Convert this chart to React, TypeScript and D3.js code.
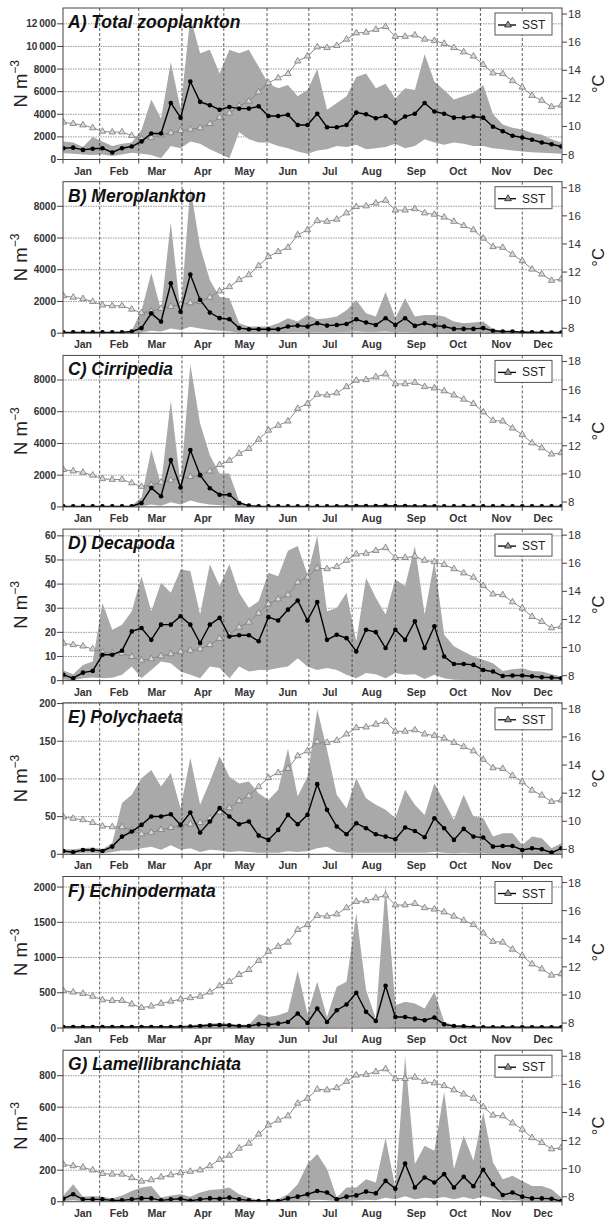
import React from "react";
import * as d3 from "d3";

// ---------- data ----------
const DAYS = [5,12,19,26,33,40,47,54,61,68,75,82,89,96,103,110,117,124,131,138,145,152,159,166,173,180,187,194,201,208,215,222,229,236,243,250,257,264,271,278,285,292,299,306,313,320,327,334,341,348,355,362];
const MONTHS = ["Jan","Feb","Mar","Apr","May","Jun","Jul","Aug","Sep","Oct","Nov","Dec"];
const MONTH_LABEL_DAYS = [19,45,72,105,135,166,196,226,258,288,319,349];
const MONTH_LINES = [31,59,90,120,151,181,212,243,273,304,334];
const SST_TICKS = [8,10,12,14,16,18];

const SST = [10.3,10.2,10.1,9.9,9.65,9.6,9.6,9.35,9.1,9.2,9.4,9.55,9.7,9.8,9.9,10.2,10.65,10.95,11.45,11.8,12.45,13.1,13.45,13.75,14.65,15.0,15.65,15.6,15.75,16.2,16.65,16.7,16.9,17.1,16.4,16.4,16.5,16.2,16.1,15.9,15.6,15.3,15.0,14.4,13.8,13.75,13.25,12.8,12.2,11.85,11.4,11.5];

const A_MEAN = [1000,1050,850,950,1000,620,1000,1150,1600,2300,2300,5000,3700,6900,5100,4800,4400,4650,4500,4500,4700,3850,3850,3950,3050,3050,4050,2850,2850,3050,4150,4000,3650,3850,3250,3800,4050,5000,4250,4050,3700,3700,3800,3700,2900,2500,2100,1950,1750,1500,1350,1150];
const A_UP = [1600,1500,1100,2000,1600,1200,1400,1500,2600,5300,3600,8600,4500,12600,9400,9700,7600,9700,9400,9700,8200,6700,6300,6600,5600,6150,8000,4400,5000,5600,7300,7600,6300,6700,5400,6300,6150,9300,6900,6150,5300,5600,5900,6600,4000,3100,2800,2650,2350,2200,1800,1500];
const A_LO = [550,500,450,400,450,300,450,600,500,400,100,1200,1000,1600,1400,900,500,100,2400,1800,1500,1500,1200,1000,700,500,800,900,1200,1100,1300,900,1000,1100,1400,1000,1200,1800,1500,1300,1500,1400,1200,1200,1000,900,800,700,650,600,550,500];

const B_MEAN = [50,50,50,50,50,50,50,110,320,1250,730,3150,1350,3700,2100,1300,950,880,320,250,250,250,250,420,480,420,630,480,520,580,880,670,520,940,520,940,460,630,480,420,270,270,270,320,150,110,110,60,60,50,40,40];
const B_UP = [80,80,80,80,80,80,100,160,1450,3800,1450,7000,1250,9200,5450,3350,2300,2200,630,420,420,420,630,950,730,1150,880,950,1050,1450,2100,1250,1050,2600,950,2200,1050,1150,1150,1050,730,630,670,730,250,150,120,100,90,80,70,60];
const B_LO = [10,10,10,10,10,10,10,20,50,150,100,300,200,400,300,200,150,100,50,40,40,40,40,60,80,60,80,60,60,70,100,80,70,100,60,80,50,60,50,40,30,30,30,30,20,10,10,10,10,10,10,10];

const C_MEAN = [30,30,30,30,30,30,30,40,250,1200,670,2950,1220,3580,2000,1180,770,770,250,80,40,30,30,30,30,30,30,30,40,40,60,50,50,70,50,60,40,40,40,30,30,30,30,30,30,30,30,30,30,30,30,30];
const C_UP = [50,50,50,50,50,50,50,80,600,3600,1400,6700,1400,9000,5250,3250,2100,2100,350,100,60,50,50,50,50,50,50,60,70,80,120,100,100,140,100,120,80,70,70,60,50,50,50,50,50,50,50,50,50,50,50,50];
const C_LO = [5,5,5,5,5,5,5,10,40,150,80,300,150,400,250,150,100,80,30,10,5,5,5,5,5,5,5,5,10,10,10,10,10,10,10,10,5,5,5,5,5,5,5,5,5,5,5,5,5,5,5,5];

const D_MEAN = [2.4,1.0,3.3,4.0,10.7,10.7,12.4,20.4,21.8,16.9,23.2,23.2,26.7,23.2,15.6,23.2,26.0,18.3,18.8,18.8,16.3,26.3,24.9,29.4,33.2,24.9,32.6,16.9,19.0,17.6,12.1,21.1,20.1,13.5,21.1,16.9,24.6,13.5,22.5,10.0,6.9,6.9,6.5,4.4,3.75,1.9,2.1,2.1,1.8,1.4,1.25,1.0];
const D_UP = [4.2,2.6,6.5,7.9,32.2,21.1,23.2,28.7,43.3,28.7,40.6,36.4,46.1,45.4,27.4,48.2,39.2,48.2,36.4,30.1,32.9,44.7,43.3,53.8,55.8,44.0,60.0,28.7,30.1,36.4,16.3,42.6,34.3,27.4,41.9,39.2,55.8,27.4,49.6,19.0,14.2,12.1,10.0,8.6,7.2,4.0,4.7,5.1,4.0,3.75,2.6,1.7];
const D_LO = [0.5,0.1,1.0,1.3,1.0,1.2,2.4,5.8,1.0,4.4,7.9,7.2,3.8,2.4,1.0,5.8,5.2,1.0,5.8,3.8,4.4,4.4,5.2,5.8,9.3,5.8,4.4,5.2,4.4,2.4,1.0,3.1,2.6,1.0,3.1,2.4,2.6,0.7,2.4,1.0,0.4,0.3,0.3,0.3,0.3,0.2,0.2,0.2,0.2,0.2,0.1,0.1];

const E_MEAN = [4.4,2.7,5.8,5.8,4.4,10.2,23.5,30.2,39.0,50.1,50.1,53.2,39.0,55.4,28.8,43.5,61.2,50.1,39.9,43.5,24.8,19.1,32.4,52.3,39.9,52.3,93.1,59.0,36.8,26.6,41.2,34.6,26.6,23.5,20.0,35.5,31.0,22.6,47.9,34.6,19.1,33.7,23.5,22.2,10.2,11.1,11.1,5.8,8.0,6.7,2.2,8.0];
const E_UP = [6.7,6.7,8,8.9,6.7,15,68,79,101,112,90,108,61,128,65.6,96.7,130,103,94,96.7,81,72,85.6,140,77,103,192,139,79,61,101,74.5,65.6,59,48,85.6,65.6,52.3,94,70,45.7,79,50,48,23.5,28,28,12.4,23.5,21.3,8,14.6];
const E_LO = [1.5,1,2,2,1.5,3,5,5,8,10,6,12,6,8,3,6,5,3,4,3,2,2,2,4,3,4,8,10,3,2,2,2,2,2,2,2,2,2,3,2,1.5,2,1.5,1.5,1,1,1,0.5,0.5,0.5,0.3,0.5];

const F_MEAN = [15,15,15,15,15,15,15,15,15,15,15,15,15,20,29,38,43,38,29,29,52,48,62,86,205,71,276,86,252,333,500,229,100,600,157,157,133,110,148,52,29,24,14,10,10,10,10,10,10,10,10,10];
const F_UP = [25,25,25,25,25,25,25,25,25,25,30,30,35,38,53,62,72,62,45,45,195,157,181,229,814,200,657,157,586,657,1630,538,133,2030,324,371,348,276,514,86,40,29,20,15,15,15,15,15,15,15,15,15];
const F_LO = [2,2,2,2,2,2,2,2,2,2,2,2,2,3,4,5,5,5,4,4,6,5,6,8,12,6,12,8,10,12,15,10,6,15,8,8,6,5,6,3,2,2,2,2,2,2,2,2,2,2,2,2];

const G_MEAN = [19,47,15,15,15,8.5,8.5,15,21,21,8.5,15,19,6.4,15,21,19,26,15,8.5,4,4,4,21,32,47,68,58,15,32,40,64,53,132,83,243,90,154,122,175,90,158,98,203,111,43,58,32,21,21,19,4];
const G_UP = [40,111,32,36,32,21,40,68,90,100,26,40,47,32,58,75,79,90,47,26,8.5,12,15,47,111,239,303,207,26,90,90,143,122,405,90,922,239,356,324,698,207,420,260,570,250,143,164,132,100,100,79,26];
const G_LO = [5,10,3,3,3,2,2,3,5,5,2,3,4,1,3,5,4,5,3,2,1,1,1,3,5,8,12,10,3,5,8,12,10,25,15,35,15,25,20,30,15,30,15,35,20,8,10,6,4,4,4,1];

const TITLES = ["A) Total zooplankton","B) Meroplankton","C) Cirripedia","D) Decapoda","E) Polychaeta","F) Echinodermata","G) Lamellibranchiata"];
const YMAX = [13400, 9550, 9550, 62.8, 201, 2150, 962];
const YTICKS = [
  [0,2000,4000,6000,8000,10000,12000],
  [0,2000,4000,6000,8000],
  [0,2000,4000,6000,8000],
  [0,10,20,30,40,50,60],
  [0,50,100,150,200],
  [0,500,1000,1500,2000],
  [0,200,400,600,800],
];
const MEANS = [A_MEAN,B_MEAN,C_MEAN,D_MEAN,E_MEAN,F_MEAN,G_MEAN];
const UPS = [A_UP,B_UP,C_UP,D_UP,E_UP,F_UP,G_UP];
const LOS = [A_LO,B_LO,C_LO,D_LO,E_LO,F_LO,G_LO];

// ---------- layout ----------
const W = 607, H = 1221;
const LEFT = 63, RIGHT = 562;
const TOP0 = 8, STEP = 173.7, PH = 151.5;
const FONT = "'Liberation Sans', Arial, sans-serif";

const x = d3.scaleLinear().domain([4.7, 362.5]).range([LEFT, RIGHT]);

const fmt = (v: number) => (v >= 10000 ? d3.format(",")(v).replace(",", "\u2009") : String(v));

function Panel({ k }: { k: number }) {
  const top = TOP0 + STEP * k;
  const bottom = top + PH;
  const y = d3.scaleLinear().domain([0, YMAX[k]]).range([bottom, top]);
  const yT = d3.scaleLinear().domain([7.65, 18.43]).range([bottom, top]);
  const mean = MEANS[k], up = UPS[k], lo = LOS[k];
  const area = d3.area<number>()
    .x((_, i) => x(DAYS[i]))
    .y0((_, i) => y(lo[i]))
    .y1((_, i) => y(up[i]));
  const line = d3.line<number>().x((_, i) => x(DAYS[i])).y((d) => y(d));
  const sstLine = d3.line<number>().x((_, i) => x(DAYS[i])).y((d) => yT(d));
  const tri = d3.symbol(d3.symbolTriangle, 18)()!;
  const triLeg = d3.symbol(d3.symbolTriangle, 20)()!;
  const clipId = `clip${k}`;
  const midY = (top + bottom) / 2;
  const legX = 495, legY = top + 5;
  return (
    <g>
      <defs>
        <clipPath id={clipId}>
          <rect x={LEFT} y={top} width={RIGHT - LEFT} height={PH} />
        </clipPath>
      </defs>
      <rect x={LEFT} y={top} width={RIGHT - LEFT} height={PH} fill="#fff" />
      {YTICKS[k].filter((t) => t > 0).map((t) => (
        <line key={"h" + t} x1={LEFT} x2={RIGHT} y1={y(t)} y2={y(t)} stroke="#9a9a9a" strokeWidth={1} strokeDasharray="1.5,1" />
      ))}
      <g clipPath={`url(#${clipId})`}>
        <path d={area(up) || ""} fill="#a9a9a9" stroke="none" />
        {MONTH_LINES.map((d) => (
          <line key={"v" + d} x1={x(d)} x2={x(d)} y1={top} y2={bottom} stroke="#333" strokeWidth={0.8} strokeDasharray="3,2" />
        ))}
        <path d={sstLine(SST) || ""} fill="none" stroke="#8a8a8a" strokeWidth={1} />
        {SST.map((v, i) => (
          <path key={"t" + i} d={tri} transform={`translate(${x(DAYS[i])},${yT(v)})`} fill="#d8d8d8" stroke="#7a7a7a" strokeWidth={0.8} />
        ))}
        <path d={line(mean) || ""} fill="none" stroke="#000" strokeWidth={1.4} />
        {mean.map((v, i) => (
          <circle key={"c" + i} cx={x(DAYS[i])} cy={y(v)} r={2.3} fill="#000" />
        ))}
      </g>
      <rect x={LEFT} y={top} width={RIGHT - LEFT} height={PH} fill="none" stroke="#444" strokeWidth={1} />
      {YTICKS[k].map((t) => (
        <g key={"l" + t}>
          <line x1={LEFT - 6} x2={LEFT} y1={y(t)} y2={y(t)} stroke="#444" strokeWidth={1} />
          <text x={LEFT - 7} y={y(t) + 3.5} textAnchor="end" fontSize={10} fontWeight="bold" fill="#333" fontFamily={FONT}>{fmt(t)}</text>
        </g>
      ))}
      {SST_TICKS.map((t) => (
        <g key={"r" + t}>
          <line x1={RIGHT} x2={RIGHT + 5} y1={yT(t)} y2={yT(t)} stroke="#444" strokeWidth={1} />
          <text x={RIGHT + 6} y={yT(t) + 4} fontSize={11.5} fill="#333" fontFamily={FONT}>{t}</text>
        </g>
      ))}
      {[4.7, ...MONTH_LINES, 362.5].map((d) => (
        <line key={"b" + d} x1={x(d)} x2={x(d)} y1={bottom} y2={bottom + 4} stroke="#444" strokeWidth={1} />
      ))}
      {MONTHS.map((m, i) => (
        <text key={m} x={x(MONTH_LABEL_DAYS[i])} y={bottom + 15} textAnchor="middle" fontSize={10.5} fontWeight="bold" fill="#333" fontFamily={FONT}>{m}</text>
      ))}
      <text transform={`translate(27,${midY}) rotate(-90)`} textAnchor="middle" fontSize={18.5} fill="#222" fontFamily={FONT}>
        N m<tspan fontSize={12} dy={-8}>−3</tspan>
      </text>
      <text transform={`translate(604,${midY}) rotate(-90)`} textAnchor="middle" fontSize={16.5} fill="#222" fontFamily={FONT}>°C</text>
      <text x={LEFT + 5} y={top + 20} fontSize={17.5} fontWeight="bold" fontStyle="italic" fill="#111" fontFamily={FONT}>{TITLES[k]}</text>
      <rect x={legX} y={legY} width={57} height={22} fill="#fff" stroke="#555" strokeWidth={1} />
      <line x1={legX + 3} x2={legX + 21} y1={legY + 12} y2={legY + 12} stroke="#000" strokeWidth={1.3} />
      <path d={triLeg} transform={`translate(${legX + 13},${legY + 12})`} fill="#999" stroke="#222" strokeWidth={0.8} />
      <text x={legX + 27} y={legY + 16} fontSize={12} fill="#222" fontFamily={FONT}>SST</text>
    </g>
  );
}

export default function App() {
  return (
    <svg width={W} height={H} viewBox={`0 0 ${W} ${H}`} style={{ position: "absolute", left: 0, top: 0, background: "#fff" }}>
      <rect width={W} height={H} fill="#fff" />
      {TITLES.map((_, k) => (
        <Panel key={k} k={k} />
      ))}
    </svg>
  );
}
